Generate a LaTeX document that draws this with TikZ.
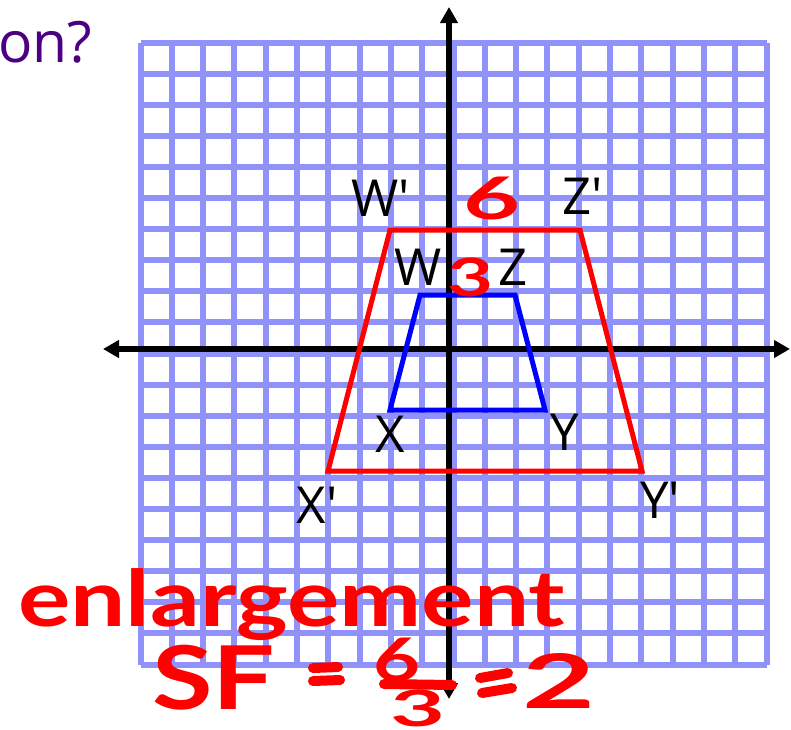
\documentclass[tikz,border=0pt]{standalone}
\usepackage{fontspec}
\setmainfont{Open Sans}
\newfontfamily\labelfont{Open Sans}
\newfontfamily\handfont{Lato}
\usetikzlibrary{arrows.meta}
\definecolor{gridblue}{RGB}{145,145,250}
\definecolor{qpurple}{RGB}{75,0,130}
\definecolor{redpen}{RGB}{255,0,0}
\definecolor{bluepen}{RGB}{0,0,255}
\newcommand\handbox[3]{\resizebox*{#1pt}{#2pt}{\handfont\bfseries #3}}
\begin{document}
\begin{tikzpicture}[x=1pt,y=-1pt,
  gridline/.style={draw=gridblue,line width=6pt,line cap=square},
  axisline/.style={draw=black,line width=6.5pt,
    {Triangle[width=17pt,length=16pt]}-{Triangle[width=17pt,length=16pt]}},
  redshape/.style={draw=redpen,line width=5pt,line join=miter},
  blueshape/.style={draw=bluepen,line width=5pt,line join=miter},
  ptlabel/.style={inner sep=0pt,font=\labelfont\fontsize{51}{51}\selectfont,text=black},
  handtext/.style={inner sep=0pt,anchor=north west,text=redpen},
  handstroke/.style={draw=redpen,line width=10pt,line cap=round}
]
\useasboundingbox (0,0) rectangle (791,729);
% grid
\foreach \i in {0,...,20} {
  \draw[gridline] ({140.5+31.3*\i},42.5) -- ({140.5+31.3*\i},664.5);
  \draw[gridline] (140.5,{42.5+31.1*\i}) -- (766.5,{42.5+31.1*\i});
}
% axes
\coordinate (xl) at (103,349);
\coordinate (xr) at (790,349);
\coordinate (yt) at (449,7);
\coordinate (yb) at (449,699);
\draw[axisline] (xl) -- (xr);
\draw[axisline] (yb) -- (yt);
% red image
\coordinate (Wp) at (390,230);
\coordinate (Zp) at (580,230);
\coordinate (Yp) at (642,471);
\coordinate (Xp) at (328,471);
\draw[redshape] (Wp) -- (Zp) -- (Yp) -- (Xp) -- cycle;
% blue original
\coordinate (W) at (420,295);
\coordinate (Z) at (515,295);
\coordinate (Y) at (545,410);
\coordinate (X) at (390,410);
\draw[blueshape] (W) -- (Z) -- (Y) -- (X) -- cycle;
% labels
\node[ptlabel] (lWp) at (381,198) {W\textquotesingle};
\node[ptlabel] (lZp) at (583,196) {Z\textquotesingle};
\node[ptlabel] (lW) at (418,267) {W};
\node[ptlabel] (lZ) at (513,267) {Z};
\node[ptlabel] (lX) at (390,434) {X};
\node[ptlabel] (lY) at (565,432) {Y};
\node[ptlabel] (lXp) at (317,505) {X\textquotesingle};
\node[ptlabel] (lYp) at (660,500) {Y\textquotesingle};
% question fragment
\node[inner sep=0pt,anchor=base west,text=qpurple,font=\fontsize{57}{57}\selectfont] (q) at (-2,62) {on?};
% handwriting
\node[handtext] (six) at (463,177) {\handbox{57}{43}{6}};
\node[handtext] (three) at (447,258) {\handbox{46}{39}{3}};
\node[handtext] (enl) at (18,568) {\handbox{547}{72}{enlargement}};
\node[handtext] (sf) at (152,645) {\handbox{123}{65}{SF}};
\coordinate (e1a) at (313,668); \coordinate (e1b) at (338,667);
\coordinate (e1c) at (313,681); \coordinate (e1d) at (340,680);
\draw[handstroke] (e1a) -- (e1b);
\draw[handstroke] (e1c) -- (e1d);
\node[handtext] (num) at (373,638) {\handbox{47}{44}{6}};
\coordinate (bara) at (384,684); \coordinate (barb) at (452,685);
\draw[handstroke] (bara) -- (barb);
\node[handtext] (den) at (390,690) {\handbox{55}{37}{3}};
\coordinate (e2a) at (480,678); \coordinate (e2b) at (508,673);
\coordinate (e2c) at (482,693); \coordinate (e2d) at (512,688);
\draw[handstroke] (e2a) -- (e2b);
\draw[handstroke] (e2c) -- (e2d);
\node[handtext] (two) at (522,653) {\handbox{73}{55}{2}};
\end{tikzpicture}
\end{document}
